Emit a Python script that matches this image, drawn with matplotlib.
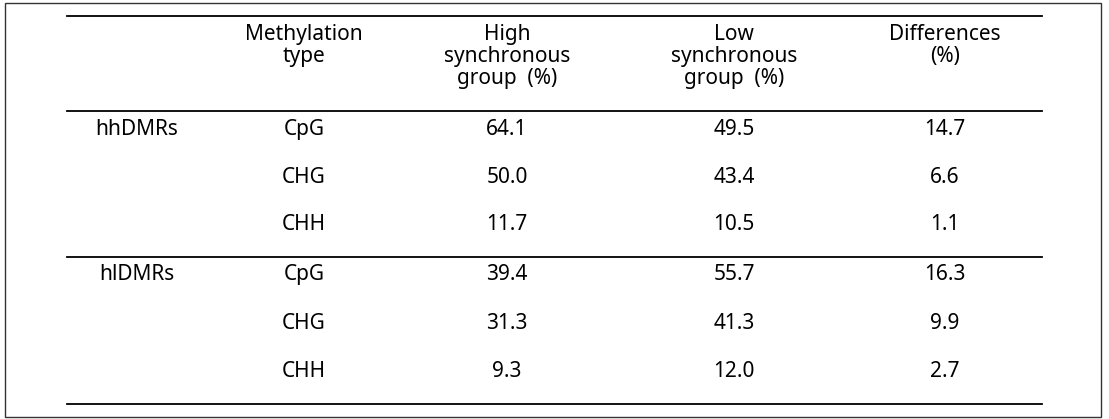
import matplotlib.pyplot as plt
from matplotlib.patches import Rectangle

plt.rcParams["font.family"] = ["Noto Sans", "DejaVu Sans"]

header = [[], ["Methylation", "type"], ["High", "synchronous", "group  (%)"],
          ["Low", "synchronous", "group  (%)"], ["Differences", "(%)"]]
groups = ["hhDMRs", "hlDMRs"]
types = ["CpG", "CHG", "CHH"]
high = [[64.1, 50.0, 11.7], [39.4, 31.3, 9.3]]
low = [[49.5, 43.4, 10.5], [55.7, 41.3, 12.0]]
diff = [[14.7, 6.6, 1.1], [16.3, 9.9, 2.7]]

W, H = 1109, 419
fig = plt.figure(figsize=(W / 100, H / 100), dpi=100)
ax = fig.add_axes([0, 0, 1, 1])
ax.set_xlim(0, W)
ax.set_ylim(H, 0)
ax.axis("off")

# outer frame
ax.add_patch(Rectangle((5, 3), 1096, 414, fill=False, edgecolor="#333333", linewidth=1))

# horizontal rules
x0, x1 = 67, 1042
for y in [16, 111, 257, 404]:
    ax.plot([x0, x1], [y, y], color="black", linewidth=1.3)

col_x = [137, 304, 507, 734, 945]
fs = 15

# header, one text per line
for cx, lines in zip(col_x, header):
    for k, s in enumerate(lines):
        ax.text(cx, 40 + 22 * k, s, ha="center", va="baseline", fontsize=fs)

row_base = [[135, 183, 230], [280, 329, 377]]
for g in range(2):
    ax.text(col_x[0], row_base[g][0], groups[g], ha="center", va="baseline", fontsize=fs)
    for i in range(3):
        y = row_base[g][i]
        ax.text(col_x[1], y, types[i], ha="center", va="baseline", fontsize=fs)
        ax.text(col_x[2], y, f"{high[g][i]:.1f}", ha="center", va="baseline", fontsize=fs)
        ax.text(col_x[3], y, f"{low[g][i]:.1f}", ha="center", va="baseline", fontsize=fs)
        ax.text(col_x[4], y, f"{diff[g][i]:.1f}", ha="center", va="baseline", fontsize=fs)

fig.savefig("out.png", dpi=100)
